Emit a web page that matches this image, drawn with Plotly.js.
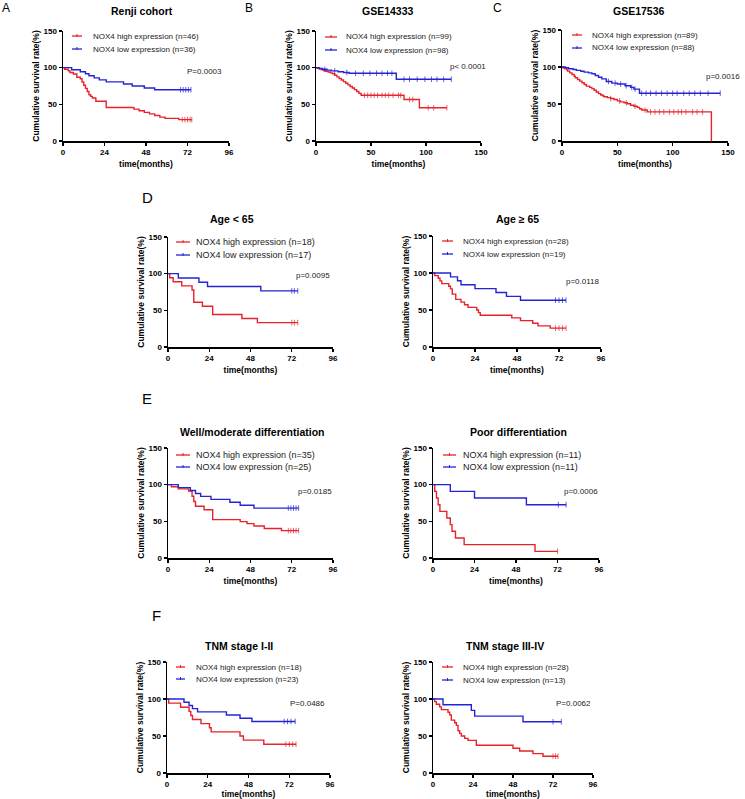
<!DOCTYPE html>
<html><head><meta charset="utf-8">
<script src="https://cdn.plot.ly/plotly-3.0.1.min.js"></script>
<style>html,body{margin:0;padding:0;background:#fff}</style>
</head><body><div id="chart" style="width:745px;height:799px"></div>
<script>
// ---------------- DATA ----------------
// Panel A: Renji cohort
const A_high_t = [0,1,3,4,6,8,10,11,12,13,14,15,16,17,19,25,41,44,47,50,53,56,59,67];
const A_high_s = [100,97.8,95.7,93.5,91.3,87,84.8,80.4,76.1,71.7,67.4,63,60.9,58.7,54.3,45.7,43.5,41.3,39.1,37,34.8,32.6,30.8,29.2];
const A_high_c = [69,70.5,72,73.5,74.5];
const A_low_t = [0,5,10,13,15,18,21,25,35,40,47,53];
const A_low_s = [100,97.2,94.4,91.7,88.9,86.1,83.3,80.6,77.8,75,72.2,69.9];
const A_low_c = [68,69.5,71,72.5,74];
const A_labels = ['NOX4 high expression (n=46)','NOX4 low expression (n=36)'];
const A_p = 'P=0.0003';
// Panel B: GSE14333
const B_high_t = [0,1,3,5,7,9,11,13,15,17,19,21,23,25,27,29,31,33,35,37,39,41,80,94];
const B_high_s = [100,99,98,97,96,95,94,92.9,91.8,89.6,87.5,85.3,83.2,81,78.8,76.6,74.4,72.2,70,67.5,65,62.3,56.6,45.3];
const B_high_c = [44,47,50,53,56,60,63,66,70,75,77,85,88,102,107,119];
const B_low_t = [0,3,6,10,14,20,25,30,73];
const B_low_s = [100,98.9,97.8,96.7,95.6,94.5,93.4,92.3,84.2];
const B_low_c = [8,17,28,36,43,49,55,60,65,69,80,85,92,99,105,110,116,123];
const B_labels = ['NOX4 high expression (n=99)','NOX4 low expression (n=98)'];
const B_p = 'p< 0.0001';
// Panel C: GSE17536
const C_high_t = [0,1,2,4,5,7,9,11,12,14,16,18,20,22,25,27,29,31,33,35,37,38,41,44,47,50,53,56,59,62,65,68,70,72,77,135];
const C_high_s = [100,98.9,97.8,96.6,94.4,92.1,89.9,87.6,85.4,83.1,80.9,78.7,76.4,74.2,72.5,70.8,68.5,66.3,64,62.1,60.9,59.8,58.6,57.4,56.1,54.2,52.9,51.6,50.3,48.3,46.9,45.5,43.5,41.8,39.3,0];
const C_high_c = [44,52,58,66,75,80,84,88,92,97,101,105,108,112,118,122,127];
const C_low_t = [0,3,6,10,13,17,20,24,27,30,33,36,40,45,50,57,62,65,70];
const C_low_s = [100,98.9,97.7,96.6,95.4,94.3,93.1,92,90.8,88.5,86.2,83.9,80.5,78.2,77,74.7,72.4,70.1,64.5];
const C_low_c = [42,48,53,58,63,66,72,76,80,85,90,95,100,104,110,115,120,125,132,143];
const C_labels = ['NOX4 high expression (n=89)','NOX4 low expression (n=88)'];
const C_p = 'p=0.0016';
// Panel D left: Age < 65
const D1_high_t = [0,1,3,8,14,15,20,26,43,52];
const D1_high_s = [100,94.4,88.9,83.3,77.8,61.1,55.6,44.4,38.9,33.3];
const D1_high_c = [72,73.5,75.5];
const D1_low_t = [0,6,18,23,54];
const D1_low_s = [100,94.1,88.2,82.4,76.5];
const D1_low_c = [72,73.5,75.5];
const D1_labels = ['NOX4 high expression (n=18)','NOX4 low expression (n=17)'];
const D1_p = 'p=0.0095';
// Panel D right: Age >= 65
const D2_high_t = [0,1,3,4,5,9,10,11,13,16,18,20,25,26,27,45,50,57,60,67];
const D2_high_s = [100,96.4,92.9,89.3,85.7,82.1,78.6,71.4,64.3,60.7,57.1,53.6,50,46.4,42.9,39.3,35.7,32.1,28.6,25.5];
const D2_high_c = [70,72,74,76];
const D2_low_t = [0,10,14,16,24,36,42,50];
const D2_low_s = [100,94.7,89.5,84.2,78.9,73.7,68.4,63.2];
const D2_low_c = [70,72,74,76];
const D2_labels = ['NOX4 high expression (n=28)','NOX4 low expression (n=19)'];
const D2_p = 'p=0.0118';
// Panel E left: Well/moderate differentiation
const E1_high_t = [0,2,6,12,14,15,16,21,26,42,46,50,56,66];
const E1_high_s = [100,97.1,94.3,91.4,84.3,77.1,70.5,65.7,52.3,49.6,46.9,43.6,40.3,37.3];
const E1_high_c = [70,71.5,73,74.5,76];
const E1_low_t = [0,6,13,16,19,25,36,42,50];
const E1_low_s = [100,96,92,88,84,80,76,72,68];
const E1_low_c = [70,71.5,73,74.5,76];
const E1_labels = ['NOX4 high expression (n=35)','NOX4 low expression (n=25)'];
const E1_p = 'p=0.0185';
// Panel E right: Poor differentiation
const E2_high_t = [0,1,2,3,4,8,10,11,13,18,59];
const E2_high_s = [100,90.9,81.8,72.7,63.6,54.5,45.5,36.4,27.3,18.2,9.1];
const E2_high_c = [72];
const E2_low_t = [0,10,24,54];
const E2_low_s = [100,90.9,81.8,72.7];
const E2_low_c = [72.5,77];
const E2_labels = ['NOX4 high expression (n=11)','NOX4 low expression (n=11)'];
const E2_p = 'p=0.0006';
// Panel F left: TNM stage I-II
const F1_high_t = [0,1,8,13,14,15,20,25,26,43,45,57];
const F1_high_s = [100,94.4,88.9,83.3,77.8,72.2,66.7,61.1,55.6,50,44.4,38.9];
const F1_high_c = [70,72,74,76];
const F1_low_t = [0,10,13,15,18,35,43,50];
const F1_low_s = [100,95.7,91.3,87,82.6,78.3,73.9,69.6];
const F1_low_c = [69,71,73,75.5];
const F1_labels = ['NOX4 high expression (n=18)','NOX4 low expression (n=23)'];
const F1_p = 'P=0.0486';
// Panel F right: TNM stage III-IV
const F2_high_t = [0,1,2,4,5,9,10,11,13,14,15,16,17,19,21,26,48,52,60,66];
const F2_high_s = [100,96.4,92.9,89.3,85.7,82.1,78.6,71.4,67.9,64.3,57.1,53.6,50,46.8,44.1,37.5,33.5,29.8,26.2,22.6];
const F2_high_c = [72,73.5,75];
const F2_low_t = [0,6,23,25,54];
const F2_low_s = [100,92.3,84.6,76.9,69.2];
const F2_low_c = [72,77];
const F2_labels = ['NOX4 high expression (n=28)','NOX4 low expression (n=13)'];
const F2_p = 'P=0.0062';

const panelTitles = ['Renji cohort','GSE14333','GSE17536','Age < 65','Age \u2265 65','Well/moderate differentiation','Poor differentiation','TNM stage I-II','TNM stage III-IV'];
const panelLetters = ['A','B','C','D','E','F'];
const monthTicks = [0,24,48,72,96];
const geoTicks = [0,50,100,150];
const survTicks = [0,50,100,150];
const xTitle = 'time(months)';
const yTitle = 'Cumulative survival rate(%)';

// ---------------- LAYOUT / STYLE ----------------
const W = 745, H = 799;
const FONT = 'Liberation Sans, Arial, sans-serif';
const RED = '#e8222a', BLUE = '#2424d4';
const fx = p => p / W, fy = p => 1 - p / H;

const panels = [
  {high:[A_high_t,A_high_s,A_high_c], low:[A_low_t,A_low_s,A_low_c], labels:A_labels, p:A_p, xt:monthTicks, xmax:96,
   box:{x:[63,229], y:[31,141]}, title:[142,11], leg:{x1:72,x2:82,tx:91,y:[36,49],fs:8}, pv:[204,72]},
  {high:[B_high_t,B_high_s,B_high_c], low:[B_low_t,B_low_s,B_low_c], labels:B_labels, p:B_p, xt:geoTicks, xmax:150,
   box:{x:[316,481], y:[31,141]}, title:[388,11], leg:{x1:325,x2:337,tx:344,y:[37,50],fs:8}, pv:[468,67]},
  {high:[C_high_t,C_high_s,C_high_c], low:[C_low_t,C_low_s,C_low_c], labels:C_labels, p:C_p, xt:geoTicks, xmax:150,
   box:{x:[562,728], y:[30,141]}, title:[639,11], leg:{x1:572,x2:582,tx:590,y:[35,48],fs:8}, pv:[723,76]},
  {high:[D1_high_t,D1_high_s,D1_high_c], low:[D1_low_t,D1_low_s,D1_low_c], labels:D1_labels, p:D1_p, xt:monthTicks, xmax:96,
   box:{x:[168,333], y:[237,347]}, title:[232,219], leg:{x1:176,x2:190,tx:194,y:[242,255],fs:9}, pv:[313,275]},
  {high:[D2_high_t,D2_high_s,D2_high_c], low:[D2_low_t,D2_low_s,D2_low_c], labels:D2_labels, p:D2_p, xt:monthTicks, xmax:96,
   box:{x:[433,601], y:[236,347]}, title:[517,219], leg:{x1:442,x2:453,tx:461,y:[241,254],fs:8}, pv:[583,281]},
  {high:[E1_high_t,E1_high_s,E1_high_c], low:[E1_low_t,E1_low_s,E1_low_c], labels:E1_labels, p:E1_p, xt:monthTicks, xmax:96,
   box:{x:[168,333], y:[448,558]}, title:[252,432], leg:{x1:176,x2:190,tx:194,y:[455,467],fs:9}, pv:[315,492]},
  {high:[E2_high_t,E2_high_s,E2_high_c], low:[E2_low_t,E2_low_s,E2_low_c], labels:E2_labels, p:E2_p, xt:monthTicks, xmax:96,
   box:{x:[433,599], y:[448,558]}, title:[518,432], leg:{x1:443,x2:456,tx:461,y:[455,467],fs:9}, pv:[581,492]},
  {high:[F1_high_t,F1_high_s,F1_high_c], low:[F1_low_t,F1_low_s,F1_low_c], labels:F1_labels, p:F1_p, xt:monthTicks, xmax:96,
   box:{x:[167,330], y:[662,773]}, title:[239,646], leg:{x1:176,x2:185,tx:194,y:[667,679],fs:8}, pv:[307,703]},
  {high:[F2_high_t,F2_high_s,F2_high_c], low:[F2_low_t,F2_low_s,F2_low_c], labels:F2_labels, p:F2_p, xt:monthTicks, xmax:96,
   box:{x:[433,593], y:[662,773]}, title:[505,646], leg:{x1:442,x2:453,tx:461,y:[667,680],fs:8}, pv:[573,703]}
];
const letterPos = [[6,8,12],[249,8,12],[497,8,12],[147,198,15],[147,398,15],[156,615,15]];

function kmTrace(series, color, name, xa, ya) {
  const [t, s, c] = series;
  const pts = t.map((tt, i) => ({x: tt, y: s[i], cens: false}));
  c.forEach(ct => {
    let y = s[0];
    for (let i = 0; i < t.length; i++) if (t[i] <= ct) y = s[i];
    pts.push({x: ct, y: y, cens: true});
  });
  pts.sort((a, b) => a.x - b.x);
  return {
    type: 'scatter', mode: 'lines+markers', name: name,
    x: pts.map(p => p.x), y: pts.map(p => p.y),
    xaxis: xa, yaxis: ya,
    line: {shape: 'hv', color: color, width: 1.4},
    marker: {symbol: 'line-ns', size: pts.map(p => p.cens ? 4 : 0), color: color, line: {color: color, width: 1}},
    showlegend: false, hoverinfo: 'skip'
  };
}

const data = [];
const layout = {
  width: W, height: H, margin: {l: 0, r: 0, t: 0, b: 0},
  paper_bgcolor: '#fff', plot_bgcolor: 'rgba(0,0,0,0)',
  font: {family: FONT, color: '#000'},
  showlegend: false, annotations: [], shapes: []
};
const tickFont = {family: FONT, size: 8, weight: 'bold', color: '#000'};
const axTitleFont = {family: FONT, size: 8.5, weight: 'bold', color: '#000'};

panels.forEach((P, i) => {
  const n = i === 0 ? '' : String(i + 1);
  const xa = 'x' + n, ya = 'y' + n;
  layout['xaxis' + n] = {
    domain: [fx(P.box.x[0]), fx(P.box.x[1])], range: [0, P.xmax], anchor: ya,
    tickmode: 'array', tickvals: P.xt, ticktext: P.xt.map(String),
    showline: true, linecolor: '#000', linewidth: 1.5, ticks: 'outside', ticklen: 3, tickwidth: 1.4, tickcolor: '#000',
    showgrid: false, zeroline: false, tickfont: tickFont, fixedrange: true,
    title: {text: xTitle, font: axTitleFont, standoff: 5}
  };
  layout['yaxis' + n] = {
    domain: [fy(P.box.y[1]), fy(P.box.y[0])], range: [0, 150], anchor: xa,
    tickmode: 'array', tickvals: survTicks, ticktext: survTicks.map(String),
    showline: true, linecolor: '#000', linewidth: 1.5, ticks: 'outside', ticklen: 3, tickwidth: 1.4, tickcolor: '#000',
    showgrid: false, zeroline: false, tickfont: tickFont, fixedrange: true,
    title: {text: yTitle, font: axTitleFont, standoff: 2}
  };
  data.push(kmTrace(P.high, RED, P.labels[0], xa, ya));
  data.push(kmTrace(P.low, BLUE, P.labels[1], xa, ya));

  // panel title
  layout.annotations.push({xref: 'paper', yref: 'paper', x: fx(P.title[0]), y: fy(P.title[1]),
    xanchor: 'center', yanchor: 'middle', showarrow: false, text: panelTitles[i],
    font: {family: FONT, size: 10.5, weight: 'bold', color: '#000'}});
  // p value
  layout.annotations.push({xref: 'paper', yref: 'paper', x: fx(P.pv[0]), y: fy(P.pv[1]),
    xanchor: 'center', yanchor: 'middle', showarrow: false, text: P.p,
    font: {family: FONT, size: 8, color: '#222'}});
  // legend (manual)
  [RED, BLUE].forEach((col, k) => {
    const yy = P.leg.y[k];
    layout.shapes.push({type: 'line', xref: 'paper', yref: 'paper', x0: fx(P.leg.x1), x1: fx(P.leg.x2), y0: fy(yy), y1: fy(yy), line: {color: col, width: 1.3}});
    const xm = (P.leg.x1 + P.leg.x2) / 2;
    layout.shapes.push({type: 'line', xref: 'paper', yref: 'paper', x0: fx(xm), x1: fx(xm), y0: fy(yy - 2), y1: fy(yy + 1), line: {color: col, width: 1}});
    layout.annotations.push({xref: 'paper', yref: 'paper', x: fx(P.leg.tx), y: fy(yy),
      xanchor: 'left', yanchor: 'middle', showarrow: false, text: P.labels[k],
      font: {family: FONT, size: P.leg.fs, color: '#222'}});
  });
});

panelLetters.forEach((L, i) => {
  const [x, y, s] = letterPos[i];
  layout.annotations.push({xref: 'paper', yref: 'paper', x: fx(x), y: fy(y), xanchor: 'center', yanchor: 'middle',
    showarrow: false, text: L, font: {family: FONT, size: s, color: '#000'}});
});

Plotly.newPlot('chart', data, layout, {staticPlot: true, displayModeBar: false});
</script>
</body></html>
